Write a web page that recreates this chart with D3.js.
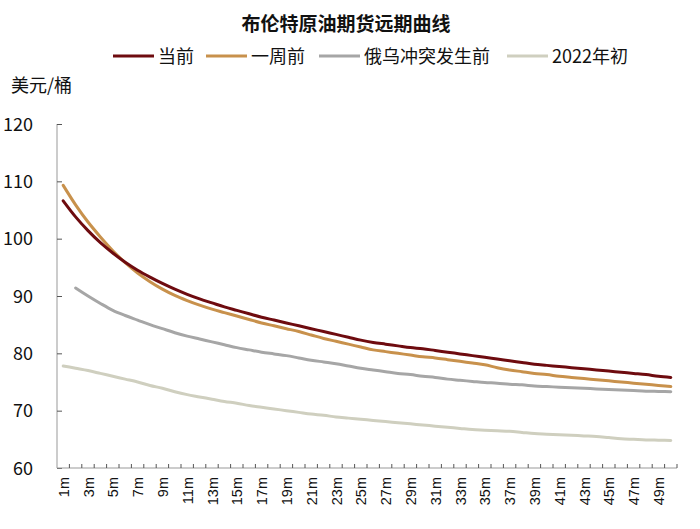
<!DOCTYPE html>
<html>
<head>
<meta charset="utf-8">
<script src="https://d3js.org/d3.v7.min.js"></script>
<style>
  body { margin: 0; background: #fff; font-family: 'Liberation Sans Narrow', 'Noto Sans CJK SC', sans-serif; }
  .title { font-family: 'Noto Sans CJK SC', sans-serif; font-weight: bold; font-size: 19px; fill: #111; }
  .legend text { font-family: 'Noto Sans CJK SC', sans-serif; font-size: 18px; fill: #111; }
  .ytick { font-size: 18px; fill: #111; }
  .xtick { font-family: 'Liberation Sans', sans-serif; font-size: 14.5px; fill: #111; }
</style>
</head>
<body>
<div id="chart"></div>
<script>
// tenor labels 1m .. 50m
var months = d3.range(1, 51).map(function (i) { return i + "m"; });
var yTicks = [60, 70, 80, 90, 100, 110, 120];

// USD/bbl
var current = [106.6, 103.8, 101.4, 99.3, 97.5, 95.9, 94.5, 93.3, 92.2, 91.2,
  90.3, 89.5, 88.8, 88.1, 87.5, 86.9, 86.3, 85.8, 85.3, 84.8,
  84.3, 83.8, 83.3, 82.8, 82.3, 81.9, 81.6, 81.3, 81.0, 80.8,
  80.5, 80.2, 79.9, 79.6, 79.3, 79.0, 78.7, 78.4, 78.1, 77.9,
  77.7, 77.5, 77.3, 77.1, 76.9, 76.7, 76.5, 76.3, 76.0, 75.8];
var weekAgo = [109.3, 105.9, 102.9, 100.3, 97.9, 95.8, 94.0, 92.5, 91.2, 90.1,
  89.2, 88.4, 87.7, 87.1, 86.5, 85.9, 85.3, 84.8, 84.3, 83.8,
  83.2, 82.6, 82.1, 81.6, 81.1, 80.6, 80.3, 80.0, 79.7, 79.4,
  79.2, 78.9, 78.6, 78.3, 78.0, 77.5, 77.1, 76.8, 76.5, 76.3,
  76.0, 75.8, 75.6, 75.4, 75.2, 75.0, 74.8, 74.6, 74.4, 74.2];
var preWar = [null, 91.4, 90.0, 88.7, 87.5, 86.6, 85.8, 85.0, 84.3, 83.6,
  83.0, 82.5, 82.0, 81.5, 81.0, 80.6, 80.2, 79.9, 79.6, 79.2,
  78.8, 78.5, 78.2, 77.8, 77.4, 77.1, 76.8, 76.5, 76.3, 76.0,
  75.8, 75.5, 75.3, 75.1, 74.9, 74.8, 74.6, 74.5, 74.3, 74.2,
  74.1, 74.0, 73.9, 73.8, 73.7, 73.6, 73.5, 73.4, 73.35, 73.3];
var start2022 = [77.8, 77.4, 77.0, 76.5, 76.0, 75.5, 75.0, 74.4, 73.9, 73.3,
  72.8, 72.4, 72.0, 71.6, 71.3, 70.9, 70.6, 70.3, 70.0, 69.7,
  69.4, 69.2, 68.9, 68.7, 68.5, 68.3, 68.1, 67.9, 67.7, 67.5,
  67.3, 67.1, 66.9, 66.7, 66.6, 66.5, 66.4, 66.2, 66.0, 65.9,
  65.8, 65.7, 65.6, 65.5, 65.3, 65.1, 65.0, 64.9, 64.85, 64.8];

var seriesNames = ["当前", "一周前", "俄乌冲突发生前", "2022年初"];
var seriesColors = ["#6e0b0f", "#c8914c", "#a6a6a6", "#cfcfbf"];
var seriesValues = [current, weekAgo, preWar, start2022];

var W = 700, H = 529;
var margin = { top: 124, right: 23, bottom: 61, left: 57 };
var width = W - margin.left - margin.right,
    height = H - margin.top - margin.bottom;

var svg = d3.select("#chart").append("svg")
    .attr("width", W).attr("height", H);

svg.append("text").attr("class", "title")
    .attr("x", 346).attr("y", 31)
    .attr("text-anchor", "middle")
    .text("布伦特原油期货远期曲线");

// legend
var legendX = [113, 206, 319, 507];
var lg = svg.append("g").attr("class", "legend");
seriesNames.forEach(function (n, i) {
    lg.append("line")
        .attr("x1", legendX[i]).attr("x2", legendX[i] + 41)
        .attr("y1", 56).attr("y2", 56)
        .attr("stroke", seriesColors[i]).attr("stroke-width", 3);
    lg.append("text")
        .attr("x", legendX[i] + 45).attr("y", 63)
        .text(n);
});

svg.append("text")
    .attr("x", 11).attr("y", 92)
    .style("font-family", "'Noto Sans CJK SC', sans-serif")
    .style("font-size", "18px")
    .style("fill", "#111")
    .text("美元/桶");

var g = svg.append("g")
    .attr("transform", "translate(" + margin.left + "," + margin.top + ")");

var x = d3.scaleBand().domain(months).range([0, width]);
var y = d3.scaleLinear().domain([60, 120]).range([height, 0]);

// y axis
var yAxis = g.append("g")
    .call(d3.axisRight(y).tickValues(yTicks).tickSize(5).tickFormat(""));
yAxis.select(".domain").attr("stroke", "#999").attr("d", "M0,0V" + height);
yAxis.selectAll(".tick line").attr("stroke", "#555");
yTicks.forEach(function (t) {
    g.append("text").attr("class", "ytick")
        .attr("x", -24).attr("y", y(t) + 6.5)
        .attr("text-anchor", "end")
        .text(t);
});

// x axis, ticks between categories pointing up
var xAxis = g.append("g")
    .attr("transform", "translate(0," + height + ")");
xAxis.append("line")
    .attr("x1", 0).attr("x2", width)
    .attr("stroke", "#999");
xAxis.selectAll(".xt").data(d3.range(1, months.length + 1))
    .enter().append("line")
    .attr("x1", function (i) { return i * x.step(); })
    .attr("x2", function (i) { return i * x.step(); })
    .attr("y1", 0).attr("y2", -4)
    .attr("stroke", "#555");
xAxis.selectAll(".xtick").data(months.filter(function (d, i) { return i % 2 === 0; }))
    .enter().append("text").attr("class", "xtick")
    .attr("transform", function (d) {
        return "translate(" + (x(d) + x.bandwidth() / 2 + 5.5) + ",9) rotate(-90)";
    })
    .attr("text-anchor", "end")
    .text(function (d) { return d; });

var line = d3.line()
    .defined(function (d) { return d != null; })
    .x(function (d, i) { return x(months[i]) + x.bandwidth() / 2; })
    .y(function (d) { return y(d); })
    .curve(d3.curveMonotoneX);

seriesValues.slice().reverse().forEach(function (vals, k) {
    var i = seriesValues.length - 1 - k;
    g.append("path")
        .datum(vals)
        .attr("fill", "none")
        .attr("stroke", seriesColors[i])
        .attr("stroke-width", 3)
        .attr("stroke-linecap", "round")
        .attr("d", line);
});
</script>
</body>
</html>
